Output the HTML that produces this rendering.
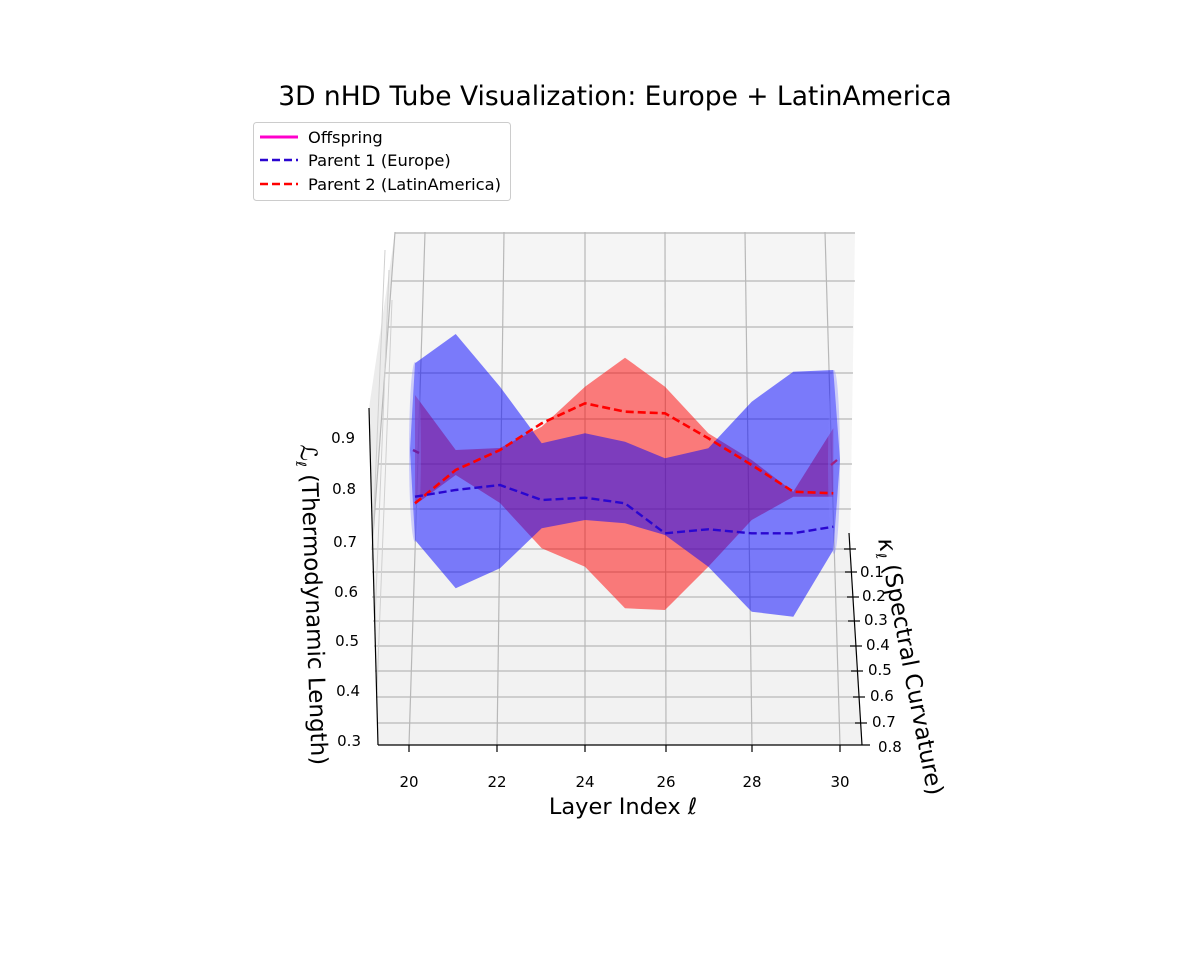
<!DOCTYPE html>
<html><head><meta charset="utf-8"><style>
html,body{margin:0;padding:0;background:#fff;}
svg{display:block;font-family:"DejaVu Sans","Liberation Sans",sans-serif;}
</style></head><body>
<svg width="1200" height="960" viewBox="0 0 1200 960" xmlns="http://www.w3.org/2000/svg">
<rect width="1200" height="960" fill="#fff"/>
<text x="615" y="105" font-size="26.5" text-anchor="middle" fill="#000">3D nHD Tube Visualization: Europe + LatinAmerica</text>

<!-- panes -->
<polygon points="395,232 855,232 850,550 372,550" fill="#f5f5f5"/>
<polygon points="372,550 850,550 862,745 378,745" fill="#f2f2f2"/>
<polygon points="395,232 372,550 378,745 369,408" fill="#ececec"/>
<g stroke="#b8b8b8" stroke-width="1.2" fill="none">
<line x1="395" y1="233" x2="855" y2="233"/>
<line x1="392" y1="281" x2="855" y2="281"/>
<line x1="388" y1="327" x2="853" y2="327"/>
<line x1="384" y1="373" x2="853" y2="373"/>
<line x1="381" y1="419" x2="852" y2="419"/>
<line x1="378" y1="464" x2="852" y2="464"/>
<line x1="375" y1="509" x2="851" y2="509"/>
<line x1="373" y1="549" x2="850" y2="549"/>
<line x1="372" y1="572" x2="851" y2="572"/>
<line x1="372" y1="597" x2="852" y2="597"/>
<line x1="373" y1="621" x2="854" y2="621"/>
<line x1="374" y1="646" x2="855" y2="646"/>
<line x1="375" y1="671" x2="857" y2="671"/>
<line x1="376" y1="697" x2="858" y2="697"/>
<line x1="377" y1="723" x2="860" y2="723"/>
<line x1="425" y1="232" x2="409" y2="745"/>
<line x1="504" y1="232" x2="497" y2="745"/>
<line x1="585" y1="232" x2="585" y2="745"/>
<line x1="665" y1="232" x2="666" y2="745"/>
<line x1="745" y1="232" x2="752" y2="745"/>
<line x1="825" y1="232" x2="840" y2="745"/>
<line x1="395" y1="232" x2="372" y2="550"/>
</g>
<g stroke="#d0d0d0" stroke-width="1" fill="none">
<line x1="372" y1="560" x2="385" y2="250"/>
<line x1="375" y1="620" x2="389" y2="270"/>
<line x1="377" y1="690" x2="392" y2="300"/>
</g>

<!-- red tube (Parent 2) -->
<polygon fill="#ff0000" fill-opacity="0.5" points="415,395 455.7,450 500,448 541.7,426.7 585,386.7 625,357.7 665,386.7 708.3,433.3 751.7,460 793.3,491.7 833.3,428.3 833.3,496.7 793.3,496.7 751.7,520 708.3,566.7 665,610 625,608.3 585,566.7 541.7,548.3 500,503 455.7,475 415,505"/>
<!-- blue tube (Parent 1) -->
<polygon fill="#0000ff" fill-opacity="0.5" points="415,363.3 455.7,334 500,386.7 541.7,443.3 585,433.3 625,441.7 665,458.3 708.3,448.3 751.7,401.7 793.3,371.7 833.3,370 840,460 833.3,550 793.3,616.7 751.7,611.7 708.3,566.7 665,535 625,523.3 585,520 541.7,528.3 500,568.3 455.7,588.3 415,540 410,450"/>
<ellipse cx="415" cy="452" rx="6" ry="90" fill="#8080ff" fill-opacity="0.35"/>
<ellipse cx="834" cy="462" rx="6" ry="92" fill="#8080ff" fill-opacity="0.35"/>

<!-- lines -->
<polyline fill="none" stroke="#ff0000" stroke-width="2.6" stroke-dasharray="8,4" points="415,503.3 455.7,470 500,450 541.7,423.3 585,403.3 625,411.7 665,413.3 708.3,438.3 751.7,465 793.3,491.7 833.3,493.3"/>
<polyline fill="none" stroke="#2a06d0" stroke-width="2.4" stroke-dasharray="8,4" points="415,496.7 455.7,490 500,485 541.7,500 585,497.7 625,503.3 665,533.3 708.3,529.3 751.7,533.3 793.3,533.3 833.3,526.7"/>
<line x1="413" y1="450" x2="419" y2="453" stroke="#7020a0" stroke-width="2.4"/>
<line x1="831" y1="465" x2="837" y2="460" stroke="#a02080" stroke-width="2.4"/>

<!-- axes -->
<g stroke="#000" stroke-width="1.2" fill="none">
<line x1="369" y1="408" x2="378" y2="745"/>
<line x1="378" y1="745" x2="870" y2="745"/>
<line x1="849" y1="533" x2="862" y2="745"/>
<line x1="409" y1="745" x2="409" y2="752"/>
<line x1="497" y1="745" x2="497" y2="752"/>
<line x1="585" y1="745" x2="585" y2="752"/>
<line x1="666" y1="745" x2="666" y2="752"/>
<line x1="752" y1="745" x2="752" y2="752"/>
<line x1="840" y1="745" x2="840" y2="752"/>
<line x1="844" y1="549" x2="856" y2="549"/>
<line x1="845" y1="572" x2="857" y2="572"/>
<line x1="847" y1="597" x2="859" y2="597"/>
<line x1="848" y1="621" x2="860" y2="621"/>
<line x1="850" y1="646" x2="862" y2="646"/>
<line x1="851" y1="671" x2="863" y2="671"/>
<line x1="853" y1="697" x2="865" y2="697"/>
<line x1="855" y1="723" x2="867" y2="723"/>
</g>
<g font-size="15" fill="#000" text-anchor="middle">
<text x="409" y="787">20</text><text x="497" y="787">22</text><text x="585" y="787">24</text>
<text x="666" y="787">26</text><text x="752" y="787">28</text><text x="840" y="787">30</text>
</g>
<g font-size="15" fill="#000" text-anchor="end">
<text x="355" y="443">0.9</text><text x="356" y="494">0.8</text><text x="357" y="547">0.7</text>
<text x="358" y="597">0.6</text><text x="359" y="646">0.5</text><text x="360" y="696">0.4</text><text x="361" y="746">0.3</text>
</g>
<g font-size="15" fill="#000">
<text x="860" y="577">0.1</text><text x="862" y="601">0.2</text><text x="864" y="625">0.3</text>
<text x="866" y="650">0.4</text><text x="868" y="675">0.5</text><text x="870" y="701">0.6</text>
<text x="872" y="727">0.7</text><text x="878" y="752">0.8</text>
</g>
<text x="623" y="814" font-size="22.5" text-anchor="middle" fill="#000">Layer Index <tspan font-style="italic">ℓ</tspan></text>
<text transform="translate(306,605) rotate(88)" font-size="23" text-anchor="middle" fill="#000"><tspan font-style="italic">ℒ</tspan><tspan font-size="14" dy="5" font-style="italic">ℓ</tspan><tspan dy="-5"> (Thermodynamic Length)</tspan></text>
<text transform="translate(903,668) rotate(79)" font-size="23" text-anchor="middle" fill="#000"><tspan font-style="italic">κ</tspan><tspan font-size="14" dy="5" font-style="italic">ℓ</tspan><tspan dy="-5"> (Spectral Curvature)</tspan></text>

<!-- legend -->
<rect x="253.5" y="122.5" width="257" height="78" rx="3" fill="#fff" fill-opacity="0.8" stroke="#ccc"/>
<line x1="260" y1="137" x2="298" y2="137" stroke="#ff00cc" stroke-width="3"/>
<line x1="260" y1="160" x2="298" y2="160" stroke="#2a06d0" stroke-width="2.4" stroke-dasharray="8,4"/>
<line x1="260" y1="184" x2="298" y2="184" stroke="#ff0000" stroke-width="2.4" stroke-dasharray="8,4"/>
<g font-size="16.3" fill="#000">
<text x="308" y="143">Offspring</text>
<text x="308" y="166">Parent 1 (Europe)</text>
<text x="308" y="190">Parent 2 (LatinAmerica)</text>
</g>
</svg>
</body></html>
